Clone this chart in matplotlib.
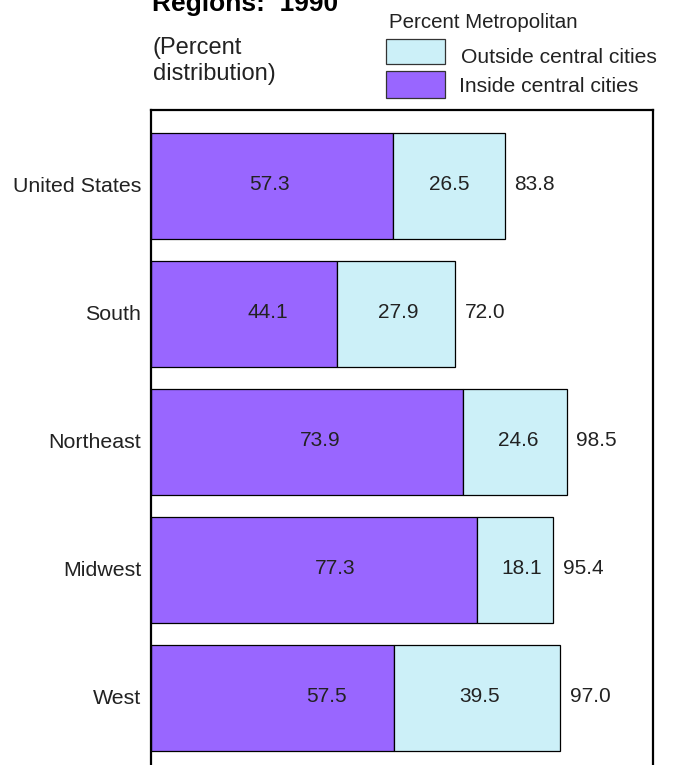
import matplotlib.pyplot as plt
import numpy as np

plt.rcParams['font.family'] = ['Liberation Sans', 'DejaVu Sans']

regions = ['United States', 'South', 'Northeast', 'Midwest', 'West']
inside = [57.3, 44.1, 73.9, 77.3, 57.5]
outside = [26.5, 27.9, 24.6, 18.1, 39.5]
total = [83.8, 72.0, 98.5, 95.4, 97.0]

# where the printed numbers sit (data units), as in the original layout
inside_label_x = [28.2, 27.7, 40.0, 43.6, 41.7]
outside_label_x = [70.6, 58.5, 87.0, 87.9, 78.0]

purple = '#9966ff'
light_blue = '#ccf0f8'
txt = '#222222'

W, H = 674, 765
fig = plt.figure(figsize=(W / 100, H / 100), dpi=100)

def fx(px):
    return px / W

def fy(py):
    return 1 - py / H

ax = fig.add_axes([fx(151), fy(774), fx(653) - fx(151), fy(110) - fy(774)])

y = np.arange(len(regions))
bh = 0.83
ax.barh(y, inside, height=bh, color=purple, edgecolor='black', linewidth=0.9)
ax.barh(y, outside, left=inside, height=bh, color=light_blue, edgecolor='black', linewidth=0.9)

fs = 15
for i in range(len(regions)):
    ax.text(inside_label_x[i], y[i] - 0.01, f'{inside[i]:.1f}', ha='center', va='center',
            fontsize=fs, color=txt)
    ax.text(outside_label_x[i], y[i] - 0.01, f'{outside[i]:.1f}', ha='center', va='center',
            fontsize=fs, color=txt)
    ax.text(total[i] + 2.3, y[i] - 0.01, f'{total[i]:.1f}', ha='left', va='center',
            fontsize=fs, color=txt)

ax.set_xlim(0, 119)
ax.set_ylim(4.594, -0.594)
ax.set_yticks(y - 0.015)
ax.set_yticklabels(regions, fontsize=15.4, color=txt)
ax.tick_params(axis='y', length=0, pad=7)
ax.set_xticks([])
for s in ax.spines.values():
    s.set_linewidth(1.6)

# headings (title is cut by the top edge, as in the source)
fig.text(fx(152), fy(10.5), 'Regions:  1990', fontsize=19, fontweight='bold', ha='left', va='baseline')
fig.text(fx(153), fy(54), '(Percent', fontsize=17, ha='left', va='baseline', color=txt)
fig.text(fx(153), fy(80), 'distribution)', fontsize=17, ha='left', va='baseline', color=txt)

# legend drawn by hand
fig.text(fx(389), fy(28), 'Percent Metropolitan', fontsize=14.8, ha='left', va='baseline', color=txt)
fig.patches.append(plt.Rectangle((fx(386), fy(64)), fx(59), fy(39) - fy(64), transform=fig.transFigure,
                                 facecolor=light_blue, edgecolor='#333333', linewidth=0.9))
fig.patches.append(plt.Rectangle((fx(386), fy(98)), fx(59), fy(71) - fy(98), transform=fig.transFigure,
                                 facecolor=purple, edgecolor='#333333', linewidth=0.9))
fig.text(fx(461), fy(63), 'Outside central cities', fontsize=15.2, ha='left', va='baseline', color=txt)
fig.text(fx(459), fy(92), 'Inside central cities', fontsize=15.2, ha='left', va='baseline', color=txt)

fig.savefig('out.png', dpi=100)
